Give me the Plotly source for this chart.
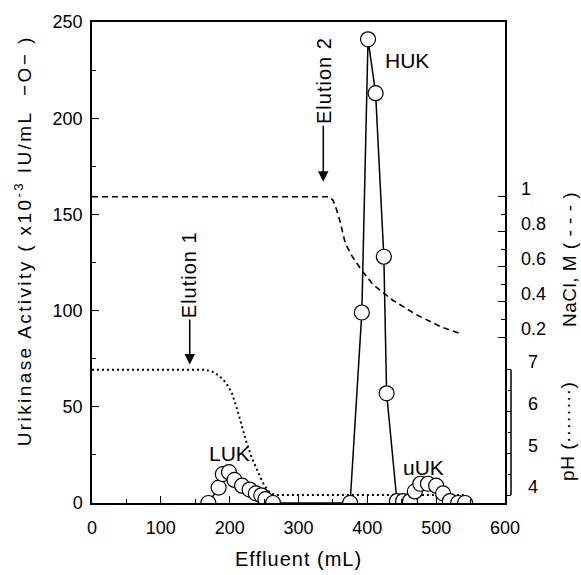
import plotly.graph_objects as go

# Urokinase activity (x10^-3 IU/mL) vs effluent volume (mL)
act_x = [169, 184, 190, 199, 207, 218, 229, 238, 246, 252, 263,
         375, 392, 401, 412, 424, 428,
         443, 452, 462, 469, 477, 488, 500, 510, 520, 532, 542]
act_y = [0, 8, 15, 16, 12, 9, 7, 5, 4, 2, 0,
         0, 99, 241, 213, 128, 57,
         1, 1, 1, 6, 10, 10, 9, 5, 1, 0, 0]

# NaCl gradient (M)
nacl_x = [0, 345, 350, 355, 360, 368, 378, 392, 408, 437, 470, 506, 535]
nacl_y = [1.0, 1.0, 0.98, 0.93, 0.865, 0.735, 0.66, 0.58, 0.50, 0.41, 0.33, 0.26, 0.22]

# pH gradient
ph_x = [0, 165, 175, 185, 195, 203, 210, 214, 218, 225, 232, 240, 248, 256, 265, 540]
ph_y = [7.0, 7.0, 6.95, 6.85, 6.68, 6.45, 6.1, 5.85, 5.6, 5.23, 4.9, 4.6, 4.3, 4.1, 4.0, 4.0]

x_ticks = [0, 100, 200, 300, 400, 500, 600]
nacl_ticks = [0.2, 0.4, 0.6, 0.8, 1.0]
nacl_ticktext = ["0.2", "0.4", "0.6", "0.8", "1"]
ph_ticks = [4, 5, 6, 7]

FONT = "Liberation Sans, Arial, sans-serif"
BLACK = "black"

def spaced(t, ls):
    return '<span style="letter-spacing:%spx">%s</span>' % (ls, t)

fig = go.Figure()

fig.add_trace(go.Scatter(x=nacl_x, y=nacl_y, yaxis="y2", mode="lines",
                         line=dict(color=BLACK, width=1.6, dash="6px,4px"),
                         showlegend=False, hoverinfo="skip"))
fig.add_trace(go.Scatter(x=ph_x, y=ph_y, yaxis="y3", mode="lines",
                         line=dict(color=BLACK, width=2, dash="2px,3px"),
                         showlegend=False, hoverinfo="skip"))
fig.add_trace(go.Scatter(x=act_x, y=act_y, yaxis="y4", mode="lines+markers",
                         line=dict(color=BLACK, width=1.5),
                         marker=dict(size=15, color="white",
                                     line=dict(color=BLACK, width=1.2)),
                         showlegend=False))

W, H = 581, 575
L, R, T, B = 92, 70, 16, 72
pw = W - L - R
ph = H - T - B
xend = 413 / pw

def px(xp):
    return (xp - L) / pw

def py(yp):
    return (H - B - yp) / ph

TICKF = dict(size=18)

fig.update_layout(
    width=W, height=H,
    margin=dict(l=L, r=R, t=T, b=B),
    paper_bgcolor="white", plot_bgcolor="white",
    font=dict(family=FONT, size=18, color=BLACK),
    xaxis=dict(domain=[0, xend], range=[0, 600], tickvals=x_ticks,
               ticks="inside", ticklen=7, tickwidth=1.2, tickcolor=BLACK,
               minor=dict(dtick=50, tick0=0, ticks="inside", ticklen=4,
                          tickwidth=1.2, tickcolor=BLACK),
               showline=True, linewidth=1.5, linecolor=BLACK, mirror=True,
               showgrid=False, zeroline=False, ticklabelstandoff=8,
               tickfont=TICKF),
    yaxis=dict(range=[0, 250], dtick=50, tick0=0,
               ticks="inside", ticklen=7, tickwidth=1.2, tickcolor=BLACK,
               minor=dict(dtick=25, tick0=0, ticks="inside", ticklen=4,
                          tickwidth=1.2, tickcolor=BLACK),
               showline=True, linewidth=1.5, linecolor=BLACK, mirror=True,
               showgrid=False, zeroline=False, ticklabelstandoff=4,
               tickfont=TICKF),
    yaxis2=dict(overlaying="y", side="right", anchor="x",
                range=[-0.7465, 1.997], tickvals=nacl_ticks, ticktext=nacl_ticktext,
                ticks="inside", ticklen=7, tickwidth=1.2, tickcolor=BLACK,
                minor=dict(tickvals=[0.3, 0.5, 0.7, 0.9], ticks="inside",
                           ticklen=4, tickwidth=1.2, tickcolor=BLACK),
                showline=False, showgrid=False, zeroline=False,
                ticklabelstandoff=15, ticklabelshift=-8,
                tickfont=TICKF),
    yaxis3=dict(overlaying="y", side="right", anchor="free", position=1.0,
                range=[3.811, 15.316], tickvals=ph_ticks,
                ticks="inside", ticklen=6, tickwidth=1.2, tickcolor=BLACK,
                minor=dict(tickvals=[4.5, 5.5, 6.5], ticks="inside",
                           ticklen=3, tickwidth=1.2, tickcolor=BLACK),
                showline=False, showgrid=False, zeroline=False,
                ticklabelstandoff=16, ticklabelshift=-8,
                tickfont=TICKF),
    yaxis4=dict(overlaying="y", range=[0, 250], visible=False),
)

# pH axis bracket line
fig.add_shape(type="line", xref="paper", yref="y3", x0=1.0, x1=1.0, y0=4, y1=7,
              line=dict(color=BLACK, width=1.5))

C = dict(xanchor="center", yanchor="middle", showarrow=False)
ann = []
ann.append(dict(text=spaced("Effluent (mL)", 1), xref="paper", yref="paper",
                x=px(298), y=py(560), font=dict(size=20), **C))
ann.append(dict(text=spaced("Urikinase Activity ( x10<sup>-3</sup> IU/mL  \u2212O\u2212 )", 2.4),
                xref="paper", yref="paper", x=px(23), y=py(238),
                textangle=-90, font=dict(size=19), **C))
ann.append(dict(text=spaced("NaCl, M ( - - - )", 0.5), xref="paper", yref="paper",
                x=px(569), y=py(257), textangle=-90, font=dict(size=19), **C))
ann.append(dict(text=spaced("pH (\u00b7\u00b7\u00b7\u00b7\u00b7\u00b7\u00b7\u00b7)", 0.5),
                xref="paper", yref="paper",
                x=px(568), y=py(431), textangle=-90, font=dict(size=19), **C))
ann.append(dict(text="HUK", xref="x", yref="y", x=458, y=230,
                font=dict(size=21), **C))
ann.append(dict(text="LUK", xref="x", yref="y", x=200, y=25.7,
                font=dict(size=21), **C))
ann.append(dict(text="uUK", xref="x", yref="y", x=481, y=18.5,
                font=dict(size=21), **C))
# Elution arrows: text sits above the arrow tail, arrow points down to tip
ann.append(dict(text=spaced("Elution 1", 1), xref="x", yref="y", x=142, y=72,
                ax=0, ay=-90, textangle=-90, showarrow=True, arrowhead=2,
                arrowsize=1.4, arrowwidth=1.5, arrowcolor=BLACK,
                font=dict(size=20)))
ann.append(dict(text=spaced("Elution 2", 1), xref="x", yref="y", x=336, y=167,
                ax=0, ay=-101, textangle=-90, showarrow=True, arrowhead=2,
                arrowsize=1.4, arrowwidth=1.5, arrowcolor=BLACK,
                font=dict(size=20)))
fig.update_layout(annotations=ann)

fig.write_html("out.html",
               config={"displayModeBar": False},
               post_script="document.body.style.margin='0';"
                           "document.body.style.overflow='hidden';")
